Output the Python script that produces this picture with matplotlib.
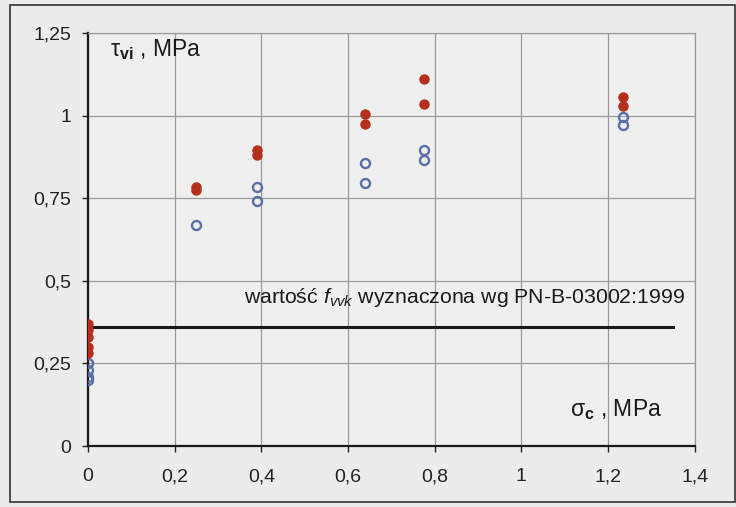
import matplotlib.pyplot as plt
from matplotlib.patches import Rectangle

plt.rcParams['font.family'] = ['Liberation Sans', 'DejaVu Sans']
plt.rcParams['mathtext.fontset'] = 'custom'
plt.rcParams['mathtext.rm'] = 'Liberation Sans'
plt.rcParams['mathtext.it'] = 'Liberation Sans:italic'
plt.rcParams['mathtext.bf'] = 'Liberation Sans:bold'

# measured shear strength, red = filled, blue = open
red_x = [0, 0, 0, 0, 0, 0.25, 0.25, 0.39, 0.39, 0.64, 0.64, 0.775, 0.775, 1.235, 1.235]
red_y = [0.37, 0.35, 0.33, 0.30, 0.28, 0.785, 0.775, 0.895, 0.88, 1.005, 0.975, 1.11, 1.035, 1.055, 1.03]
blue_x = [0, 0, 0, 0, 0.25, 0.39, 0.39, 0.64, 0.64, 0.775, 0.775, 1.235, 1.235]
blue_y = [0.25, 0.23, 0.21, 0.20, 0.67, 0.785, 0.74, 0.855, 0.795, 0.895, 0.865, 0.995, 0.97]

# characteristic value from the standard
fvvk = 0.36
fvvk_x = [0, 1.35]

x_ticks = [0, 0.2, 0.4, 0.6, 0.8, 1.0, 1.2, 1.4]
x_labels = ['0', '0,2', '0,4', '0,6', '0,8', '1', '1,2', '1,4']
y_ticks = [0, 0.25, 0.5, 0.75, 1.0, 1.25]
y_labels = ['0', '0,25', '0,5', '0,75', '1', '1,25']

fig = plt.figure(figsize=(7.36, 5.07), dpi=100, facecolor='#ececec')
ax = fig.add_axes([0.1196, 0.1203, 0.8244, 0.8147])
ax.set_facecolor('#efefef')

fig.patches.append(Rectangle((0.014, 0.01), 0.984, 0.98, transform=fig.transFigure,
                             fill=False, edgecolor='#333333', linewidth=1.2))

ax.grid(True, color='#9a9a9a', linewidth=0.9)
ax.set_axisbelow(True)

ax.plot(fvvk_x, [fvvk, fvvk], color='#1a1a1a', linewidth=2.2, zorder=2)

ax.plot(blue_x, blue_y, linestyle='none', marker='o', markersize=6.5,
        markerfacecolor='none', markeredgecolor='#5b6fa6', markeredgewidth=1.7, zorder=3)
ax.plot(red_x, red_y, linestyle='none', marker='o', markersize=6.5,
        markerfacecolor='#b5301c', markeredgecolor='#b5301c', zorder=4)

ax.set_xlim(0, 1.4)
ax.set_ylim(0, 1.25)
ax.set_xticks(x_ticks)
ax.set_xticklabels(x_labels)
ax.set_yticks(y_ticks)
ax.set_yticklabels(y_labels)
ax.tick_params(direction='out', length=4, width=1, labelsize=14, colors='#222222')
ax.tick_params(axis='x', pad=12)
ax.tick_params(axis='y', pad=8)

for side in ('top', 'right'):
    ax.spines[side].set_color('#9a9a9a')
    ax.spines[side].set_linewidth(0.9)
for side in ('left', 'bottom'):
    ax.spines[side].set_color('#1a1a1a')
    ax.spines[side].set_linewidth(1.6)

ax.text(0.05, 1.2, r'τ$_{\mathbf{vi}}$ , MPa', fontsize=16.5, va='center', ha='left', color='#1a1a1a')
ax.text(1.112, 0.109, r'σ$_{\mathbf{c}}$ , MPa', fontsize=16.5, va='center', ha='left', color='#1a1a1a')
ax.text(0.36, 0.45, r'wartość $f_{vvk}$ wyznaczona wg PN-B-03002:1999', fontsize=15.3,
        va='center', ha='left', color='#1a1a1a')

fig.savefig('out.png', dpi=100, facecolor=fig.get_facecolor())
